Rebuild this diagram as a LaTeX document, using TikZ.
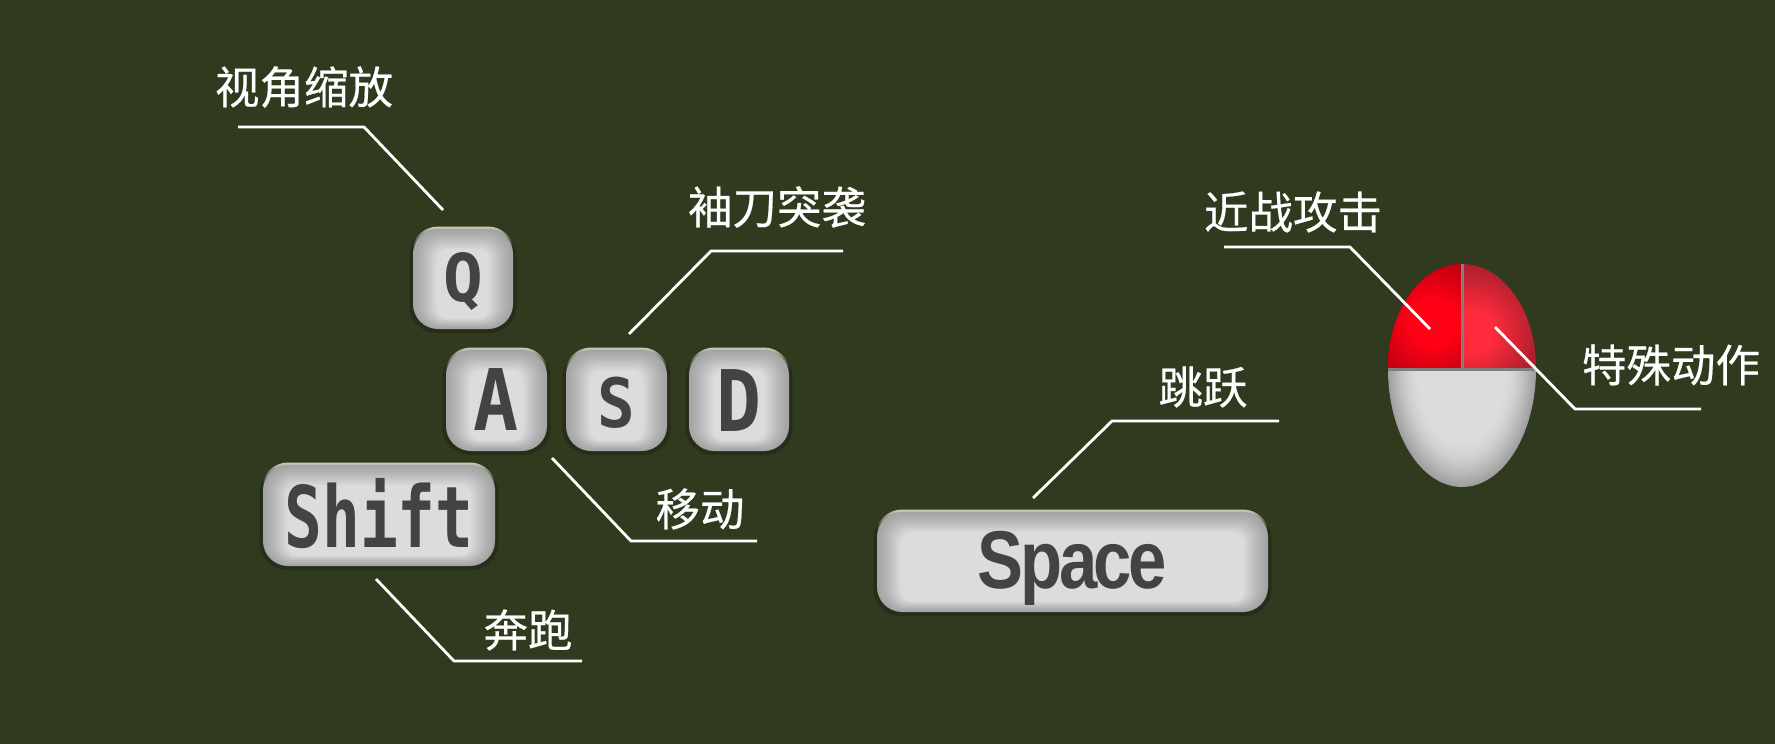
\documentclass[tikz,border=0pt]{standalone}
\usepackage{fontspec}
\setmainfont{Noto Sans CJK SC}
\newfontfamily\labelfont[FakeBold=0.4]{Noto Sans CJK SC}
\newfontfamily\keyfont{DejaVu Sans Mono}
\newfontfamily\spacefont[LetterSpace=-5]{Liberation Sans}
\definecolor{boardbg}{HTML}{2F3A1F}
\definecolor{keyshadow}{HTML}{262E19}
\definecolor{keyrim}{HTML}{CBD0C0}
\definecolor{keylight}{HTML}{DCDCDC}
\definecolor{keydark}{HTML}{A4A4A4}
\definecolor{keyink}{HTML}{434343}
\definecolor{mousegrey}{HTML}{7F7F7F}
\definecolor{leftin}{HTML}{FF0014}
\definecolor{leftout}{HTML}{A80010}
\definecolor{rightin}{HTML}{FF2A3C}
\definecolor{rightout}{HTML}{AE202E}
\definecolor{bottomout}{HTML}{A0A0A0}
\tikzset{
  callout/.style={draw=white,line width=2.8pt,line join=miter},
  calloutlabel/.style={text=white,font=\labelfont\fontsize{44.5}{50}\selectfont,inner sep=0pt},
  keylabel/.style={text=keyink,inner sep=0pt},
}
\newcommand{\keycap}[7]{%
  \fill[keyshadow,rounded corners=27pt] (#2-3.5,#3) rectangle (#4+3.5,#5+4);
  \begin{scope}
    \clip[rounded corners=26pt] (#2-1,#3-2.5) rectangle (#4+1,#3+60);
    \shade[top color=keyrim,bottom color=keyshadow] (#2-6,#3-3) rectangle (#4+6,#3+18);
  \end{scope}
  \foreach \i in {0,...,14}{
    \pgfmathsetmacro{\ka}{#2+\i*1.7}
    \pgfmathsetmacro{\kb}{#3+\i*1.45}
    \pgfmathsetmacro{\kc}{#4-\i*1.7}
    \pgfmathsetmacro{\kd}{#5-\i*0.75}
    \pgfmathsetmacro{\kr}{max(25-\i*1.0,11)}
    \pgfmathsetmacro{\kp}{100*(\i/14)^1.2}
    \fill[keylight!\kp!keydark,rounded corners=\kr pt] (\ka,\kb) rectangle (\kc,\kd);
  }
  \node[keylabel] (#1) at ({(#2+#4)/2},{(#3+#5)/2+#6}) {#7};
}
\begin{document}
\begin{tikzpicture}[x=1pt,y=-1pt]
\useasboundingbox (0,0) rectangle (1775,744);
\fill[boardbg] (0,0) rectangle (1775,744);

\keycap{keyq}{413}{229}{513}{329}{3}{\scalebox{1}[1]{\keyfont\bfseries\fontsize{66}{66}\selectfont Q}}
\keycap{keya}{446}{350}{547}{451}{-1}{\scalebox{.88}[1]{\keyfont\bfseries\fontsize{85}{85}\selectfont A}}
\keycap{keys}{566}{350}{667}{451}{2}{\scalebox{.92}[1]{\keyfont\bfseries\fontsize{68}{68}\selectfont S}}
\keycap{keyd}{689}{350}{789}{451}{0}{\scalebox{.88}[1]{\keyfont\bfseries\fontsize{85}{85}\selectfont D}}
\keycap{keyshift}{263}{465}{495}{566}{-2}{\scalebox{.74}[1]{\keyfont\bfseries\fontsize{85}{85}\selectfont Shift}}
\keycap{keyspace}{877}{512}{1268}{612}{6}{\scalebox{.84}[1]{\spacefont\bfseries\fontsize{82}{82}\selectfont Space}}

% mouse
\begin{scope}
  \clip (1388,264) rectangle (1462,369);
  \clip (1462,369) ellipse [x radius=74,y radius=105];
  \fill[leftout] (1388,264) rectangle (1462,369);
  \foreach \i in {0,...,27}{
    \pgfmathsetmacro{\mr}{78-\i*2}
    \pgfmathsetmacro{\mp}{\i/27*100}
    \fill[leftin!\mp!leftout] (1433,323) circle [radius=\mr];
  }
\end{scope}
\begin{scope}
  \clip (1462,264) rectangle (1537,369);
  \clip (1462,369) ellipse [x radius=74,y radius=105];
  \fill[rightout] (1462,264) rectangle (1537,369);
  \foreach \i in {0,...,22}{
    \pgfmathsetmacro{\mr}{66-\i*2}
    \pgfmathsetmacro{\mp}{\i/22*100}
    \fill[rightin!\mp!rightout] (1473,332) circle [radius=\mr];
  }
\end{scope}
\begin{scope}
  \clip (1388,369) rectangle (1537,488);
  \foreach \i in {0,...,20}{
    \pgfmathsetmacro{\mx}{74-\i*1.6}
    \pgfmathsetmacro{\my}{118-\i*2.35}
    \pgfmathsetmacro{\mp}{100*sin(\i/20*90)}
    \fill[keylight!\mp!bottomout] (1462,369) ellipse [x radius=\mx,y radius=\my];
  }
\end{scope}
\draw[mousegrey,line width=3pt] (1388,369) -- (1536,369);
\draw[mousegrey,line width=3pt] (1462,264) -- (1462,369);

% labels
\node[calloutlabel] (lzoom) at (304,87) {视角缩放};
\node[calloutlabel] (lblade) at (777,207) {袖刀突袭};
\node[calloutlabel] (lmove) at (700,509) {移动};
\node[calloutlabel] (lrun) at (528,630) {奔跑};
\node[calloutlabel] (ljump) at (1203,387) {跳跃};
\node[calloutlabel] (lmelee) at (1293,212) {近战攻击};
\node[calloutlabel] (lspecial) at (1671,365) {特殊动作};

% connector points
\coordinate (za) at (238,127); \coordinate (zb) at (364,127); \coordinate (zc) at (443,210);
\coordinate (ba) at (843,251); \coordinate (bb) at (711,251); \coordinate (bc) at (629,334);
\coordinate (ma) at (552,458); \coordinate (mb) at (631,541); \coordinate (mc) at (757,541);
\coordinate (ra) at (376,579); \coordinate (rb) at (454,661); \coordinate (rc) at (582,661);
\coordinate (ja) at (1279,421); \coordinate (jb) at (1112,421); \coordinate (jc) at (1033,498);
\coordinate (ea) at (1224,247); \coordinate (eb) at (1350,247); \coordinate (ec) at (1430,329);
\coordinate (sa) at (1701,409); \coordinate (sb) at (1575,409); \coordinate (sc) at (1495,327);

\draw[callout] (za) -- (zb) -- (zc);
\draw[callout] (ba) -- (bb) -- (bc);
\draw[callout] (ma) -- (mb) -- (mc);
\draw[callout] (ra) -- (rb) -- (rc);
\draw[callout] (ja) -- (jb) -- (jc);
\draw[callout] (ea) -- (eb) -- (ec);
\draw[callout] (sa) -- (sb) -- (sc);
\end{tikzpicture}
\end{document}
